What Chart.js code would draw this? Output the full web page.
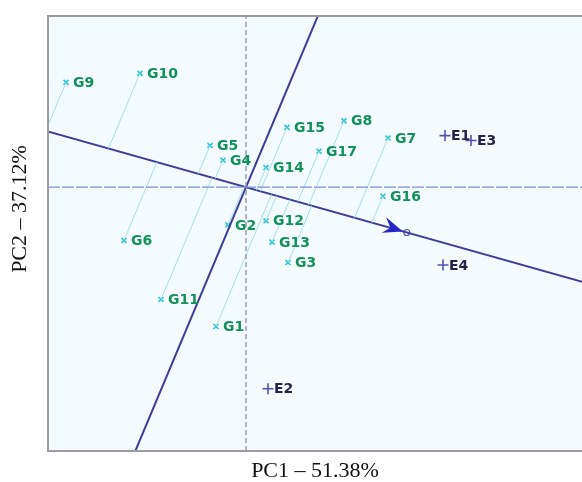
<!DOCTYPE html>
<html>
<head>
<meta charset="utf-8">
<script src="https://cdn.jsdelivr.net/npm/chart.js@4"></script>
<style>
  html, body { margin: 0; padding: 0; background: #ffffff; }
  #wrap { width: 582px; height: 482px; }
</style>
</head>
<body>
<div id="wrap"><canvas id="biplotChart" width="582" height="482"></canvas></div>
<script>
// Genotype scores (PC1, PC2)
const genotypeNames = ['G1', 'G2', 'G3', 'G4', 'G5', 'G6', 'G7', 'G8', 'G9', 'G10',
                       'G11', 'G12', 'G13', 'G14', 'G15', 'G16', 'G17'];
const genotypePC1 = [-0.30, -0.18, 0.42, -0.23, -0.36, -1.22, 1.42, 0.98, -1.80, -1.06,
                     -0.85, 0.20, 0.26, 0.20, 0.41, 1.37, 0.73];
const genotypePC2 = [-1.70, -0.46, -0.92, 0.33, 0.51, -0.65, 0.60, 0.81, 1.28, 1.39,
                     -1.37, -0.41, -0.67, 0.24, 0.73, -0.11, 0.44];

// Environment scores (PC1, PC2)
const envNames = ['E1', 'E2', 'E3', 'E4'];
const envPC1 = [1.99, 0.22, 2.25, 1.97];
const envPC2 = [0.63, -2.46, 0.57, -0.95];

// Axis ranges and titles
const xRange = [-1.98, 3.36];
const yRange = [-3.22, 2.09];
const xTitle = 'PC1 \u2013 51.38%';
const yTitle = 'PC2 \u2013 37.12%';

// Average environment coordinate (mean of the environments)
const aecX = envPC1.reduce((a, b) => a + b, 0) / envPC1.length;
const aecY = envPC2.reduce((a, b) => a + b, 0) / envPC2.length;
const aecLen2 = aecX * aecX + aecY * aecY;

// **Build datasets**
function buildDatasets() {
    const sets = [];

    // origin lines
    sets.push({
        data: [{ x: 0, y: yRange[0] }, { x: 0, y: yRange[1] }],
        showLine: true, borderColor: '#9a9ab4', borderWidth: 1.5, borderDash: [5, 3],
        pointRadius: 0
    });
    sets.push({
        data: [{ x: xRange[0], y: 0 }, { x: xRange[1], y: 0 }],
        showLine: true, borderColor: '#7f90de', borderWidth: 1.2, borderDash: [12, 2],
        pointRadius: 0
    });

    // projection of each genotype onto the average environment axis
    genotypeNames.forEach((name, i) => {
        const t = (genotypePC1[i] * aecX + genotypePC2[i] * aecY) / aecLen2;
        sets.push({
            data: [{ x: genotypePC1[i], y: genotypePC2[i] }, { x: t * aecX, y: t * aecY }],
            showLine: true, borderColor: '#a6dfea', borderWidth: 1, pointRadius: 0
        });
    });

    // average environment axis (abscissa) and its perpendicular (ordinate)
    const k = 6;
    sets.push({
        data: [{ x: -k * aecX, y: -k * aecY }, { x: k * aecX, y: k * aecY }],
        showLine: true, borderColor: '#3d3d98', borderWidth: 2, pointRadius: 0
    });
    sets.push({
        data: [{ x: k * aecY, y: -k * aecX }, { x: -k * aecY, y: k * aecX }],
        showLine: true, borderColor: '#3d3d98', borderWidth: 2, pointRadius: 0
    });

    // genotypes
    sets.push({
        label: 'genotypes',
        data: genotypePC1.map((x, i) => ({ x: x, y: genotypePC2[i] })),
        pointStyle: 'crossRot', pointRadius: 3.5, borderWidth: 1.6,
        borderColor: '#2cc2d8', backgroundColor: '#2cc2d8', showLine: false
    });

    // environments
    sets.push({
        label: 'environments',
        data: envPC1.map((x, i) => ({ x: x, y: envPC2[i] })),
        pointStyle: 'cross', pointRadius: 5.5, borderWidth: 1.6,
        borderColor: '#5252b0', backgroundColor: '#5252b0', showLine: false
    });

    // average environment point
    sets.push({
        label: 'aec',
        data: [{ x: aecX, y: aecY }],
        pointStyle: 'circle', pointRadius: 3, borderWidth: 1.2,
        borderColor: '#5a5ab8', backgroundColor: 'rgba(0,0,0,0)', showLine: false
    });
    return sets;
}

// **Plugin: plot background, border, labels, arrow and axis titles**
const biplotDecor = {
    id: 'biplotDecor',
    beforeDatasetsDraw(chart) {
        const { ctx, chartArea } = chart;
        ctx.save();
        ctx.fillStyle = '#f3fbfe';
        ctx.fillRect(chartArea.left, chartArea.top,
            chartArea.right - chartArea.left, chartArea.bottom - chartArea.top);
        ctx.restore();
    },
    afterDatasetsDraw(chart) {
        const { ctx, chartArea, scales } = chart;
        const xs = scales.x, ys = scales.y;
        ctx.save();

        // arrow head pointing at the average environment
        const ox = xs.getPixelForValue(0), oy = ys.getPixelForValue(0);
        const ax = xs.getPixelForValue(aecX), ay = ys.getPixelForValue(aecY);
        const ang = Math.atan2(ay - oy, ax - ox);
        ctx.translate(ax - 4 * Math.cos(ang), ay - 4 * Math.sin(ang));
        ctx.rotate(ang);
        ctx.fillStyle = '#2626c4';
        ctx.beginPath();
        ctx.moveTo(0, 0);
        ctx.lineTo(-20, -9);
        ctx.lineTo(-13, 0);
        ctx.lineTo(-20, 7);
        ctx.closePath();
        ctx.fill();
        ctx.setTransform(1, 0, 0, 1, 0, 0);

        // labels
        ctx.font = 'bold 14px "DejaVu Sans"';
        ctx.textAlign = 'left';
        ctx.textBaseline = 'middle';
        ctx.fillStyle = '#14915a';
        genotypeNames.forEach((name, i) => {
            ctx.fillText(name, xs.getPixelForValue(genotypePC1[i]) + 7,
                ys.getPixelForValue(genotypePC2[i]) + 1);
        });
        ctx.fillStyle = '#23234c';
        envNames.forEach((name, i) => {
            ctx.fillText(name, xs.getPixelForValue(envPC1[i]) + 6,
                ys.getPixelForValue(envPC2[i]) + 1);
        });

        // frame
        ctx.strokeStyle = '#9c9c9c';
        ctx.lineWidth = 2;
        ctx.strokeRect(chartArea.left, chartArea.top,
            chartArea.right - chartArea.left + 2, chartArea.bottom - chartArea.top);

        // axis titles
        ctx.fillStyle = '#111111';
        ctx.font = '22px "Liberation Serif"';
        ctx.textAlign = 'center';
        ctx.textBaseline = 'middle';
        ctx.fillText(xTitle, (chartArea.left + chartArea.right) / 2, 471);
        ctx.translate(20, 209);
        ctx.rotate(-Math.PI / 2);
        ctx.fillText(yTitle, 0, 0);
        ctx.restore();
    }
};

function createBiplot() {
    const ctx = document.getElementById('biplotChart').getContext('2d');
    new Chart(ctx, {
        type: 'scatter',
        data: { datasets: buildDatasets() },
        options: {
            responsive: false,
            animation: false,
            layout: { autoPadding: false, padding: { left: 48, top: 16, right: 0, bottom: 31 } },
            plugins: { legend: { display: false }, tooltip: { enabled: false } },
            scales: {
                x: { type: 'linear', min: xRange[0], max: xRange[1], display: false },
                y: { type: 'linear', min: yRange[0], max: yRange[1], display: false }
            }
        },
        plugins: [biplotDecor]
    });
}

document.addEventListener('DOMContentLoaded', createBiplot);
</script>
</body>
</html>
